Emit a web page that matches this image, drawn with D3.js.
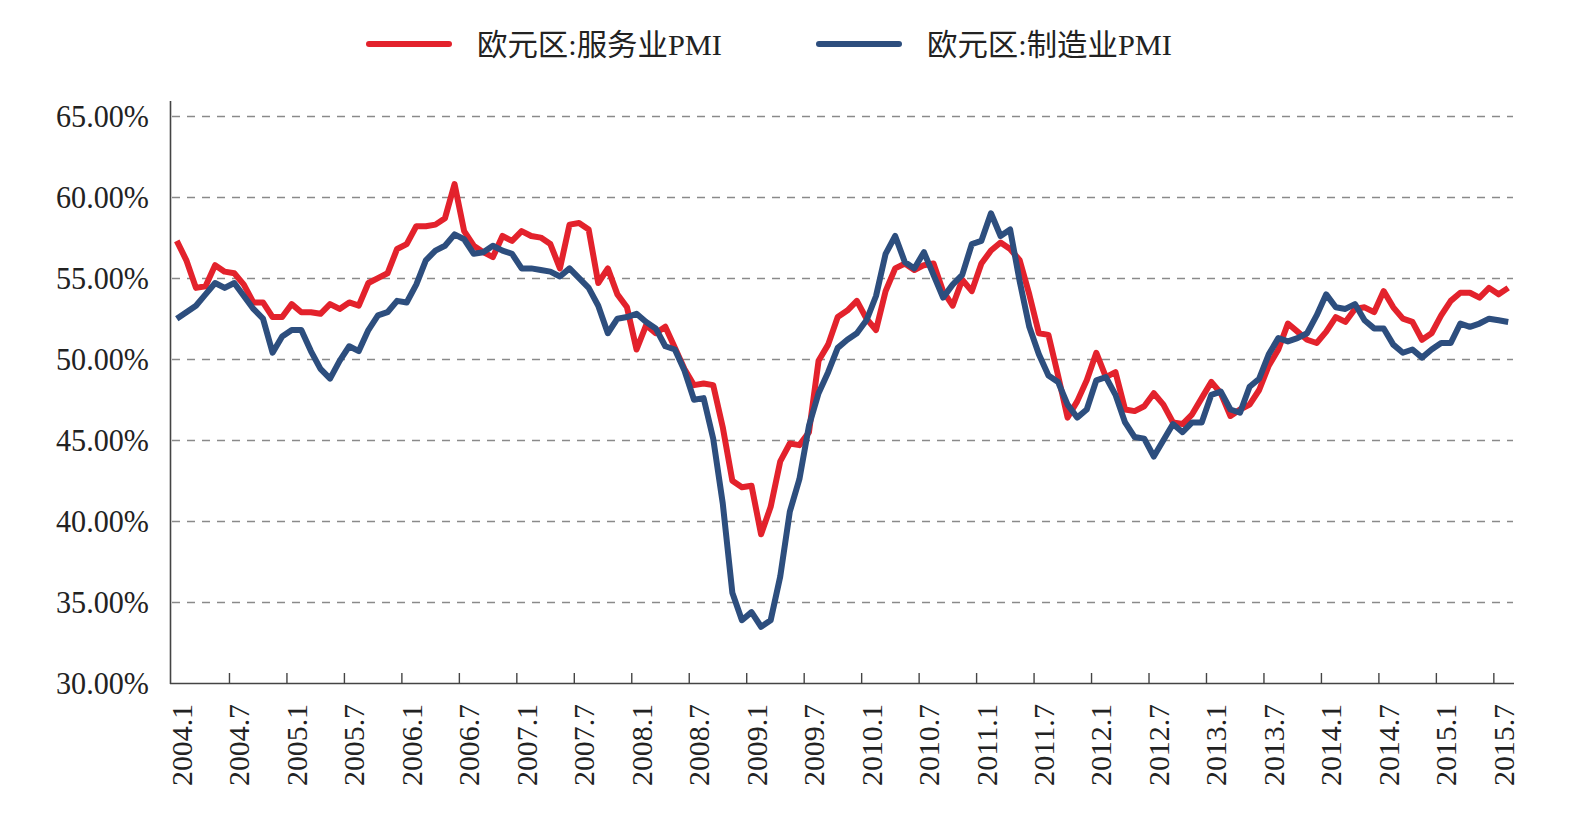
<!DOCTYPE html>
<meta charset="utf-8">
<style>
body { margin: 0; background: #fff; }
text { font-family: "Liberation Serif", "Noto Sans CJK SC", serif; fill: #222; }
.grid line { stroke: #8a8a8a; stroke-width: 1.3; stroke-dasharray: 8,7; }
</style>
<body>
<svg width="1586" height="818"></svg>
<script src="https://d3js.org/d3.v7.min.js"></script>
<script>

var seriesNames = ["欧元区:服务业PMI", "欧元区:制造业PMI"];
var seriesColors = ["#e3222c", "#2d4e7e"];

var years = [2004, 2005, 2006, 2007, 2008, 2009, 2010, 2011, 2012, 2013, 2014, 2015];
var lastMonth = 8; // data runs to 2015.8

var tickLabels = ["2004.1","2004.7","2005.1","2005.7","2006.1","2006.7","2007.1","2007.7",
  "2008.1","2008.7","2009.1","2009.7","2010.1","2010.7","2011.1","2011.7","2012.1","2012.7",
  "2013.1","2013.7","2014.1","2014.7","2015.1","2015.7"];

var yTicks = [30, 35, 40, 45, 50, 55, 60, 65];

// services PMI, 2004.1 - 2015.8
var services = [
  57.3, 56.1, 54.4, 54.5, 55.8, 55.4, 55.3, 54.6, 53.5, 53.5, 52.6, 52.6,
  53.4, 52.9, 52.9, 52.8, 53.4, 53.1, 53.5, 53.3, 54.7, 55.0, 55.3, 56.8,
  57.1, 58.2, 58.2, 58.3, 58.7, 60.8, 57.9, 57.0, 56.6, 56.3, 57.6, 57.3,
  57.9, 57.6, 57.5, 57.1, 55.6, 58.3, 58.4, 58.0, 54.7, 55.6, 54.0, 53.2,
  50.6, 52.1, 51.6, 52.0, 50.7, 49.4, 48.4, 48.5, 48.4, 45.8, 42.5, 42.1,
  42.2, 39.2, 40.9, 43.7, 44.8, 44.7, 45.5, 49.9, 50.9, 52.6, 53.0, 53.6,
  52.5, 51.8, 54.2, 55.6, 55.9, 55.5, 55.8, 55.9, 54.2, 53.3, 54.9, 54.2,
  55.9, 56.7, 57.2, 56.8, 56.1, 54.0, 51.6, 51.5, 49.0, 46.4, 47.4, 48.7,
  50.4, 48.9, 49.2, 46.9, 46.8, 47.1, 47.9, 47.2, 46.1, 46.0, 46.6, 47.6,
  48.6, 47.9, 46.5, 46.9, 47.2, 48.1, 49.6, 50.6, 52.2, 51.7, 51.2, 51.0,
  51.7, 52.6, 52.3, 53.1, 53.2, 52.9, 54.2, 53.2, 52.5, 52.3, 51.2, 51.6,
  52.7, 53.6, 54.1, 54.1, 53.8, 54.4, 54.0, 54.4
];

// manufacturing PMI, 2004.1 - 2015.8
var manufacturing = [
  52.5, 52.9, 53.3, 54.0, 54.7, 54.4, 54.7, 53.9, 53.1, 52.5, 50.4, 51.4,
  51.8, 51.8, 50.5, 49.4, 48.8, 49.9, 50.8, 50.5, 51.8, 52.7, 52.9, 53.6,
  53.5, 54.6, 56.1, 56.7, 57.0, 57.7, 57.4, 56.5, 56.6, 57.0, 56.7, 56.5,
  55.6, 55.6, 55.5, 55.4, 55.1, 55.6, 55.0, 54.4, 53.3, 51.6, 52.5, 52.6,
  52.8, 52.3, 51.9, 50.8, 50.6, 49.3, 47.5, 47.6, 45.1, 41.1, 35.6, 33.9,
  34.4, 33.5, 33.9, 36.6, 40.6, 42.6, 45.9, 47.9, 49.2, 50.7, 51.2, 51.6,
  52.4, 53.9, 56.5, 57.6, 56.0, 55.6, 56.6, 55.2, 53.8, 54.6, 55.2, 57.1,
  57.3, 59.0, 57.6, 58.0, 54.8, 52.0, 50.3, 49.0, 48.6, 47.2, 46.4, 46.9,
  48.7, 48.9, 47.8, 46.1, 45.2, 45.1, 44.0, 45.0, 46.0, 45.5, 46.1, 46.1,
  47.8, 48.0, 46.9, 46.7, 48.3, 48.8, 50.3, 51.3, 51.1, 51.3, 51.6, 52.7,
  54.0, 53.2, 53.1, 53.4, 52.4, 51.9, 51.9, 50.9, 50.4, 50.6, 50.1, 50.6,
  51.0, 51.0, 52.2, 52.0, 52.2, 52.5, 52.4, 52.3
];

// month categories
var months = [];
years.forEach(function(yr){
  var n = (yr === years[years.length-1]) ? lastMonth : 12;
  for (var m = 1; m <= n; m++) months.push(yr + "." + m);
});

var svg = d3.select("svg");

var x = d3.scaleBand()
  .domain(months)
  .range([172, 1513]);

var y = d3.scaleLinear()
  .domain([30, 65])
  .range([683.5, 116]);

var bw = x.bandwidth();

// dashed gridlines
svg.append("g")
  .attr("class", "grid")
  .selectAll("line")
  .data(yTicks.slice(1))
  .enter().append("line")
    .attr("x1", 172)
    .attr("x2", 1513)
    .attr("y1", function(d){ return Math.round(y(d)) + 0.5; })
    .attr("y2", function(d){ return Math.round(y(d)) + 0.5; });

// y labels
svg.append("g")
  .selectAll("text")
  .data(yTicks)
  .enter().append("text")
    .attr("x", 149)
    .attr("y", function(d){ return y(d); })
    .attr("dy", "0.35em")
    .attr("text-anchor", "end")
    .attr("font-size", 31)
    .attr("textLength", 93)
    .attr("lengthAdjust", "spacingAndGlyphs")
    .text(function(d){ return d.toFixed(2) + "%"; });

// axes lines
svg.append("line")
  .attr("x1", 170.5).attr("x2", 170.5)
  .attr("y1", 101).attr("y2", 684)
  .attr("stroke", "#444").attr("stroke-width", 1.6);

svg.append("line")
  .attr("x1", 170).attr("x2", 1514)
  .attr("y1", 683.5).attr("y2", 683.5)
  .attr("stroke", "#444").attr("stroke-width", 1.6);

// x ticks sit on category boundaries, every 6 months
svg.append("g")
  .selectAll("line")
  .data(tickLabels.slice(1))
  .enter().append("line")
    .attr("x1", function(d){ return x(d); })
    .attr("x2", function(d){ return x(d); })
    .attr("y1", 683.5)
    .attr("y2", 673)
    .attr("stroke", "#444")
    .attr("stroke-width", 1.4);

// x labels
svg.append("g")
  .selectAll("text")
  .data(tickLabels)
  .enter().append("text")
    .attr("transform", function(d){ return "translate(" + (x(d) + bw/2 + 5) + ",704) rotate(-90)"; })
    .attr("dy", "0.35em")
    .attr("text-anchor", "end")
    .attr("font-size", 29)
    .attr("textLength", 82)
    .attr("lengthAdjust", "spacingAndGlyphs")
    .text(function(d){ return d; });

// lines
var line = d3.line()
  .x(function(d, i){ return x(months[i]) + bw/2; })
  .y(function(d){ return y(d); });

[services, manufacturing].forEach(function(s, k){
  svg.append("path")
    .datum(s)
    .attr("fill", "none")
    .attr("stroke", seriesColors[k])
    .attr("stroke-width", 6)
    .attr("stroke-linejoin", "round")
    .attr("d", line);
});

// legend
var legendX = [369, 819];
seriesNames.forEach(function(name, k){
  svg.append("line")
    .attr("x1", legendX[k]).attr("x2", legendX[k] + 80)
    .attr("y1", 44).attr("y2", 44)
    .attr("stroke", seriesColors[k])
    .attr("stroke-width", 6)
    .attr("stroke-linecap", "round");
  svg.append("text")
    .attr("x", legendX[k] + 108)
    .attr("y", 44)
    .attr("dy", "0.35em")
    .attr("font-size", 30)
    .attr("textLength", 245)
    .attr("lengthAdjust", "spacingAndGlyphs")
    .text(name);
});

</script>
</body>
